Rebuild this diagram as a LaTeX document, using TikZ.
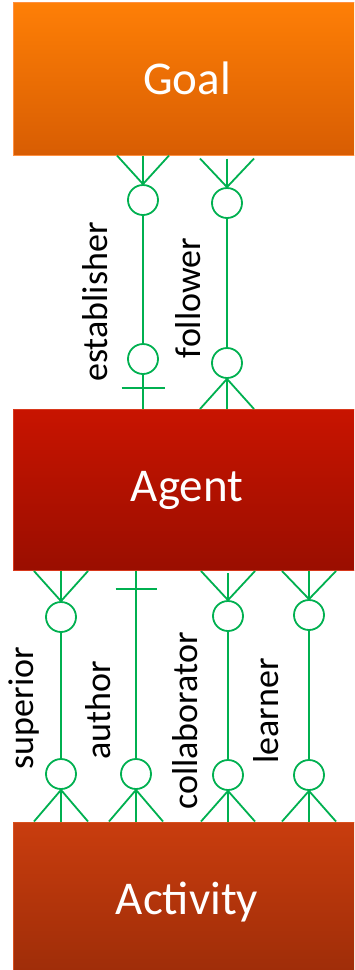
\documentclass[tikz,border=0pt]{standalone}
\usepackage{fontspec}
\setmainfont{Carlito}
\usetikzlibrary{calc}
\definecolor{goaltop}{HTML}{FE7F06}
\definecolor{goalbot}{HTML}{D85D03}
\definecolor{goaledge}{HTML}{FF9040}
\definecolor{agenttop}{HTML}{C81400}
\definecolor{agentbot}{HTML}{9A0E00}
\definecolor{agentedge}{HTML}{D8381C}
\definecolor{acttop}{HTML}{C93D0E}
\definecolor{actbot}{HTML}{9C2C08}
\definecolor{actedge}{HTML}{D8501E}
\definecolor{relgreen}{HTML}{00B050}
\begin{document}
\begin{tikzpicture}[x=1pt,y=-1pt,
  box/.style={rectangle, minimum width=348pt, inner sep=0pt, text=white,
    font=\fontsize{47}{50}\selectfont, line width=1pt},
  rel/.style={draw=relgreen, line width=1.8pt},
  circ/.style={circle, draw=relgreen, line width=1.8pt, fill=white, minimum size=30pt, inner sep=0pt},
  lbl/.style={rotate=90, anchor=base, font=\fontsize{36}{40}\selectfont, inner sep=0pt}]
\useasboundingbox (0,0) rectangle (354,970);
\clip (0,0) rectangle (354,970);
\fill[white] (0,0) rectangle (354,970);
% entity boxes
\node[box, minimum height=153pt, top color=goaltop, bottom color=goalbot, draw=goaledge] (goal) at (187,78.5) {Goal};
\node[box, minimum height=161pt, top color=agenttop, bottom color=agentbot, draw=agentedge] (agent) at (187,490) {Agent};
\node[box, minimum height=160pt, top color=acttop, bottom color=actbot, draw=actedge] (act) at (187,902) {Activity};
% ---------- Goal -- Agent ----------
% establisher
\node[circ] (ea) at (143,200) {};
\node[circ] (eb) at (143,359) {};
\draw[rel] (goal.south -| ea) -- (ea.north);
\draw[rel] ($(goal.south -| ea)+(-26,0)$) -- (ea.north) -- ($(goal.south -| ea)+(26,0)$);
\draw[rel] (ea.south) -- (eb.north);
\draw[rel] (eb.south) -- (agent.north -| eb);
\coordinate (ebar) at (143,388);
\draw[rel] ($(ebar)+(-21.5,0)$) -- ($(ebar)+(21.5,0)$);
% follower
\node[circ] (fa) at (227,203) {};
\node[circ] (fb) at (227,363) {};
\draw[rel] ($(goal.south -| fa)+(0,3)$) -- (fa.north);
\draw[rel] ($(goal.south -| fa)+(-27,3)$) -- (fa.north) -- ($(goal.south -| fa)+(27,3)$);
\draw[rel] (fa.south) -- (fb.north);
\draw[rel] (fb.south) -- (agent.north -| fb);
\draw[rel] ($(agent.north -| fb)+(-27,0)$) -- (fb.south) -- ($(agent.north -| fb)+(27,0)$);
\node[lbl] (lestab) at (107,302) {establisher};
\node[lbl] (lfoll) at (200,298) {follower};
% ---------- Agent -- Activity ----------
% superior
\node[circ] (sa) at (61,617) {};
\node[circ] (sb) at (61,774) {};
\draw[rel] (agent.south -| sa) -- (sa.north);
\draw[rel] ($(agent.south -| sa)+(-27,0)$) -- (sa.north) -- ($(agent.south -| sa)+(27,0)$);
\draw[rel] (sa.south) -- (sb.north);
\draw[rel] (sb.south) -- (act.north -| sb);
\draw[rel] ($(act.north -| sb)+(-27,0)$) -- (sb.south) -- ($(act.north -| sb)+(27,0)$);
% author
\node[circ] (ab) at (136,774) {};
\draw[rel] (agent.south -| ab) -- (ab.north);
\coordinate (abar) at (136,589);
\draw[rel] ($(abar)+(-20.5,0)$) -- ($(abar)+(20.5,0)$);
\draw[rel] (ab.south) -- (act.north -| ab);
\draw[rel] ($(act.north -| ab)+(-27,0)$) -- (ab.south) -- ($(act.north -| ab)+(27,0)$);
% collaborator
\node[circ] (ca) at (228,616) {};
\node[circ] (cb) at (228,775) {};
\draw[rel] ($(agent.south -| ca)+(0,2)$) -- (ca.north);
\draw[rel] ($(agent.south -| ca)+(-27,0)$) -- (ca.north) -- ($(agent.south -| ca)+(27,0)$);
\draw[rel] (ca.south) -- (cb.north);
\draw[rel] (cb.south) -- (act.north -| cb);
\draw[rel] ($(act.north -| cb)+(-27,0)$) -- (cb.south) -- ($(act.north -| cb)+(27,0)$);
% learner
\node[circ] (la) at (309,615) {};
\node[circ] (lb) at (309,775) {};
\draw[rel] (agent.south -| la) -- (la.north);
\draw[rel] ($(agent.south -| la)+(-27,0)$) -- (la.north) -- ($(agent.south -| la)+(27,0)$);
\draw[rel] (la.south) -- (lb.north);
\draw[rel] (lb.south) -- (act.north -| lb);
\draw[rel] ($(act.north -| lb)+(-27,0)$) -- (lb.south) -- ($(act.north -| lb)+(27,0)$);
\node[lbl] (lsup) at (33,708) {superior};
\node[lbl] (lauth) at (110,710) {author};
\node[lbl] (lcoll) at (197,721) {collaborator};
\node[lbl] (llearn) at (278,711) {learner};
\end{tikzpicture}
\end{document}
